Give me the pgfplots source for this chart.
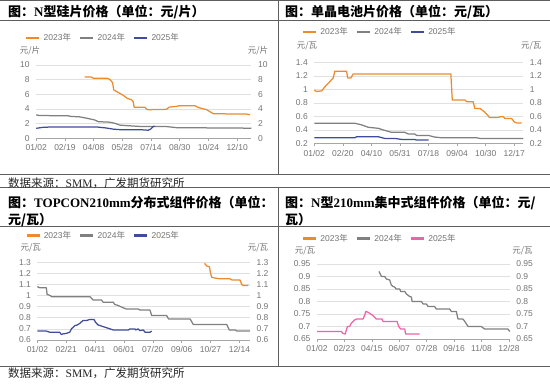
\documentclass[border=0pt]{standalone}
\usepackage{fontspec}
\setmainfont{Liberation Sans}
\newfontfamily\cjk{Noto Sans CJK SC}
\newfontfamily\tnr{Liberation Serif}
\usepackage{pgfplots}
\pgfplotsset{compat=1.18}
\definecolor{c23}{HTML}{EE8A2C}
\definecolor{c24}{HTML}{808080}
\definecolor{c25}{HTML}{3F4C9C}
\definecolor{cpk}{HTML}{EE62A8}
\definecolor{gridc}{HTML}{E0E0E0}
\definecolor{axc}{HTML}{A6A6A6}
\definecolor{labc}{HTML}{737373}
\definecolor{framec}{HTML}{5E5E5E}
\newcommand{\lf}{\fontsize{8.5}{10}\selectfont}
\pgfplotsset{
  common/.style={scale only axis, clip=false,
    tick align=outside, major tick length=3pt,
    ticklabel style={font=\lf, text=labc},
    /pgf/number format/assume math mode=true},
  base/.style={common,
    axis x line*=bottom, axis y line*=left,
    x axis line style={draw=axc, line width=0.7pt, -},
    y axis line style={draw=none},
    ymajorgrids, grid style={draw=gridc, line width=0.6pt},
    xtick={0,...,7},
    xtick style={draw=axc, line width=0.6pt},
    ytick style={draw=none},
    every axis plot/.append style={line width=1.25pt, line join=round, mark=none},
    legend cell align=left,
    legend image code/.code={\draw[line width=2.5pt] (0pt,0pt) -- (13pt,0pt);},
    legend style={draw=none, fill=none, inner sep=0pt, anchor=west,
      nodes={inner sep=0pt, font=\lf, text=labc},
      /tikz/every odd column/.append style={column sep=3pt},
      /tikz/every even column/.append style={column sep=8pt}},
    legend columns=3},
  twin/.style={common, hide x axis, axis y line*=right,
    y axis line style={draw=none}, ytick style={draw=none}},
  p1/.style={at={(36.2pt,247.7pt)}, anchor=south west, width=215.3pt, height=73.3pt,
    xmin=0, xmax=7.5, ymin=0, ymax=10, ytick={0,2,4,6,8,10}},
  p2/.style={at={(314.3pt,242.5pt)}, anchor=south west, width=209.1pt, height=81pt,
    xmin=0, xmax=7.32, ymin=0.2, ymax=1.4, ytick={0.2,0.4,0.6,0.8,1,1.2,1.4}},
  p3/.style={at={(37.4pt,46pt)}, anchor=south west, width=212.7pt, height=77.8pt,
    xmin=0, xmax=7.37, ymin=0.6, ymax=1.3, ytick={0.6,0.7,0.8,0.9,1,1.1,1.2,1.3}},
  p4/.style={at={(317pt,47pt)}, anchor=south west, width=192.8pt, height=75pt,
    xmin=0, xmax=7.03, ymin=0.65, ymax=0.95, ytick={0.65,0.7,0.75,0.8,0.85,0.9,0.95}},
}
\tikzset{frame/.style={draw=framec, line width=0.8pt}}
\newcommand{\tf}{\fontsize{13}{15}\selectfont\bfseries}
\begin{document}
\begin{tikzpicture}[x=1pt,y=1pt]
\path[use as bounding box] (0,0) rectangle (550,386);
% frames
\draw[frame] (0,385.5) -- (550,385.5);
\draw[frame] (0,366) -- (550,366);
\draw[frame] (278,385.5) -- (278,212);
\draw[frame] (0,212) -- (550,212);
\draw[frame] (0,199) -- (550,199);
\draw[frame] (0,159.3) -- (550,159.3);
\draw[frame] (278,199) -- (278,20);
\draw[frame] (0,20) -- (550,20);
% titles
\node[anchor=west, inner sep=0pt, font=\tf] at (8,374) {{\cjk 图：}{\tnr N}{\cjk 型硅片价格（单位：元/片）}};
\node[anchor=west, inner sep=0pt, font=\tf] at (285,374) {{\cjk 图：单晶电池片价格（单位：元/瓦）}};
\node[anchor=west, inner sep=0pt, font=\tf] at (8,183.3) {{\cjk 图：}{\tnr TOPCON210mm}{\cjk 分布式组件价格（单位：}};
\node[anchor=west, inner sep=0pt, font=\tf] at (8,166) {{\cjk 元/瓦）}};
\node[anchor=west, inner sep=0pt, font=\tf] at (285,183.3) {{\cjk 图：}{\tnr N}{\cjk 型}{\tnr 210mm}{\cjk 集中式组件价格（单位：元/}};
\node[anchor=west, inner sep=0pt, font=\tf] at (285,166) {{\cjk 瓦）}};
% sources
\node[anchor=west, inner sep=0pt, font=\fontsize{11.5}{13}\selectfont, text=black!85] at (8,203) {{\cjk 数据来源：}{\tnr SMM}{\cjk ，广发期货研究所}};
\node[anchor=west, inner sep=0pt, font=\fontsize{11.5}{13}\selectfont, text=black!85] at (8,13) {{\cjk 数据来源：}{\tnr SMM}{\cjk ，广发期货研究所}};
% unit labels
\node[font=\lf\cjk, text=labc, inner sep=0pt] at (30,335) {元/片};
\node[font=\lf\cjk, text=labc, inner sep=0pt] at (258,335) {元/片};
\node[font=\lf\cjk, text=labc, inner sep=0pt] at (307,340.3) {元/瓦};
\node[font=\lf\cjk, text=labc, inner sep=0pt] at (531.3,340.3) {元/瓦};
\node[font=\lf\cjk, text=labc, inner sep=0pt] at (30.8,137.7) {元/瓦};
\node[font=\lf\cjk, text=labc, inner sep=0pt] at (258,137.7) {元/瓦};
\node[font=\lf\cjk, text=labc, inner sep=0pt] at (305,135.5) {元/瓦};
\node[font=\lf\cjk, text=labc, inner sep=0pt] at (522.5,135.5) {元/瓦};

% ---------- Panel 1 ----------
\begin{axis}[base, p1,
  xticklabels={01/02,02/19,04/08,05/28,07/14,08/30,10/24,12/10},
  legend style={at={(axis description cs:-0.052,1.368)}}]
\addplot[c23] coordinates {(1.69,8.35) (1.93,8.35) (1.98,8.2) (2.47,8.2) (2.56,8.05) (2.66,7.6) (2.70,6.6) (2.86,6.25) (2.97,6.0) (3.09,5.7) (3.17,5.45) (3.32,5.25) (3.38,5.0) (3.41,4.25) (3.79,4.25) (3.84,4.0) (3.90,3.9) (4.54,3.95) (4.63,4.25) (4.89,4.35) (4.98,4.45) (5.53,4.45) (5.65,4.2) (5.94,3.9) (6.17,3.35) (7.33,3.3) (7.45,3.2)};
\addlegendentry{2023{\cjk 年}}
\addplot[c24] coordinates {(0,3.2) (0.12,3.1) (1.11,3.08) (1.17,3.0) (1.52,2.92) (1.75,2.75) (2.04,2.5) (2.16,2.27) (2.56,2.2) (2.74,2.05) (2.91,1.8) (3.15,1.73) (3.61,1.62) (4.54,1.6) (4.89,1.45) (7.5,1.38)};
\addlegendentry{2024{\cjk 年}}
\addplot[c25] coordinates {(0,1.36) (0.24,1.5) (0.59,1.55) (2.10,1.55) (2.45,1.4) (2.68,1.25) (2.91,1.18) (3.61,1.18) (3.90,1.1) (3.99,1.27) (4.07,1.58) (4.13,1.66)};
\addlegendentry{2025{\cjk 年}}
\end{axis}
\begin{axis}[twin, p1]
\end{axis}

% ---------- Panel 2 ----------
\begin{axis}[base, p2,
  xticklabels={01/02,02/20,04/10,05/31,07/18,09/04,10/30,12/17},
  legend style={at={(axis description cs:-0.060,1.377)}}]
\addplot[c23] coordinates {(0,0.99) (0.08,0.97) (0.26,0.98) (0.37,1.04) (0.55,1.12) (0.66,1.17) (0.72,1.27) (1.13,1.27) (1.17,1.17) (1.28,1.17) (1.36,1.23) (4.78,1.23) (4.83,0.845) (5.27,0.845) (5.33,0.82) (5.56,0.82) (5.62,0.72) (5.80,0.72) (5.95,0.67) (6.07,0.62) (6.13,0.585) (6.44,0.585) (6.50,0.595) (6.62,0.595) (6.67,0.57) (6.91,0.57) (7.0,0.52) (7.08,0.505) (7.26,0.505)};
\addlegendentry{2023{\cjk 年}}
\addplot[c24] coordinates {(0,0.5) (1.42,0.5) (1.66,0.475) (1.89,0.44) (2.24,0.425) (2.42,0.4) (2.71,0.365) (3.17,0.365) (3.29,0.34) (3.52,0.34) (3.58,0.32) (3.99,0.32) (4.22,0.295) (4.46,0.285) (5.68,0.285) (5.80,0.275) (7.32,0.275)};
\addlegendentry{2024{\cjk 年}}
\addplot[c25] coordinates {(0,0.285) (1.42,0.285) (1.48,0.3) (2.24,0.3) (2.47,0.275) (2.82,0.275) (3.06,0.26) (3.52,0.26) (3.58,0.25) (3.95,0.25) (4.0,0.255)};
\addlegendentry{2025{\cjk 年}}
\end{axis}
\begin{axis}[twin, p2]
\end{axis}

% ---------- Panel 3 ----------
\begin{axis}[base, p3,
  xticklabels={01/02,02/21,04/11,06/01,07/20,09/06,10/27,12/14},
  legend style={at={(axis description cs:-0.058,1.341)}}]
\addplot[c23] coordinates {(5.79,1.29) (5.87,1.265) (5.96,1.26) (6.0,1.20) (6.04,1.165) (6.10,1.16) (6.33,1.15) (6.68,1.15) (6.74,1.14) (7.02,1.14) (7.08,1.10) (7.14,1.09) (7.31,1.09)};
\addlegendentry{2023{\cjk 年}}
\addplot[c24] coordinates {(0,1.08) (0.08,1.07) (0.31,1.07) (0.335,1.01) (0.45,1.0) (0.485,0.99) (1.82,0.99) (1.93,0.96) (2.22,0.96) (2.28,0.94) (2.63,0.94) (2.68,0.92) (2.80,0.91) (2.97,0.89) (3.07,0.88) (3.49,0.88) (3.55,0.87) (3.90,0.87) (3.96,0.82) (4.48,0.82) (4.54,0.79) (5.29,0.79) (5.40,0.74) (6.56,0.74) (6.65,0.69) (6.85,0.69) (6.91,0.68) (7.37,0.68)};
\addlegendentry{2024{\cjk 年}}
\addplot[c25] coordinates {(0,0.68) (0.31,0.68) (0.43,0.67) (0.77,0.67) (0.83,0.65) (0.89,0.655) (1.01,0.66) (1.12,0.67) (1.18,0.70) (1.30,0.73) (1.38,0.735) (1.47,0.75) (1.58,0.775) (1.70,0.775) (1.82,0.785) (1.96,0.785) (2.02,0.757) (2.10,0.736) (2.28,0.72) (2.45,0.706) (2.63,0.69) (2.86,0.69) (3.15,0.69) (3.21,0.70) (3.38,0.70) (3.41,0.69) (3.49,0.70) (3.55,0.685) (3.67,0.69) (3.73,0.67) (3.90,0.67) (3.96,0.68)};
\addlegendentry{2025{\cjk 年}}
\end{axis}
\begin{axis}[twin, p3]
\end{axis}

% ---------- Panel 4 ----------
\begin{axis}[base, p4,
  xticklabels={01/02,02/23,04/15,06/07,07/28,09/16,11/08,12/28},
  legend style={at={(axis description cs:-0.079,1.343)}}]
\addlegendimage{c23, line width=1.25pt}
\addlegendentry{2023{\cjk 年}}
\addplot[c24] coordinates {(2.26,0.92) (2.35,0.90) (2.47,0.90) (2.53,0.89) (2.65,0.886) (2.71,0.866) (2.77,0.86) (2.83,0.858) (2.89,0.85) (3.02,0.85) (3.05,0.84) (3.20,0.84) (3.26,0.83) (3.38,0.82) (3.44,0.818) (3.47,0.80) (3.81,0.80) (3.87,0.79) (3.99,0.79) (4.05,0.78) (4.29,0.78) (4.35,0.77) (4.84,0.77) (4.90,0.76) (5.08,0.76) (5.14,0.73) (5.32,0.73) (5.39,0.72) (5.51,0.70) (5.99,0.70) (6.11,0.69) (6.96,0.69) (7.03,0.68)};
\addlegendentry{2024{\cjk 年}}
\addplot[cpk] coordinates {(0,0.68) (0.89,0.68) (0.95,0.672) (1.03,0.67) (1.07,0.686) (1.11,0.70) (1.19,0.70) (1.25,0.713) (1.31,0.72) (1.37,0.726) (1.44,0.73) (1.68,0.73) (1.74,0.746) (1.78,0.76) (1.86,0.757) (1.92,0.753) (2.01,0.746) (2.10,0.737) (2.16,0.73) (2.37,0.73) (2.41,0.72) (2.92,0.72) (2.98,0.70) (3.05,0.69) (3.20,0.69) (3.23,0.67) (3.74,0.67)};
\addlegendentry{2025{\cjk 年}}
\end{axis}
\begin{axis}[twin, p4]
\end{axis}
\end{tikzpicture}
\end{document}
